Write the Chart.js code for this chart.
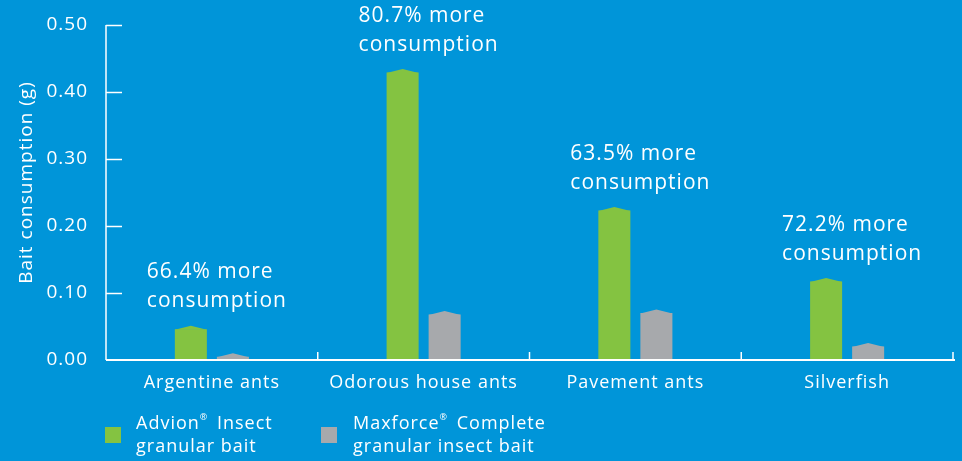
<!DOCTYPE html>
<html>
<head>
<meta charset="utf-8">
<script src="https://cdn.jsdelivr.net/npm/chart.js@4"></script>
<style>
  html, body { margin: 0; padding: 0; background: #0095d9; }
  #wrap { width: 962px; height: 461px; position: relative; }
</style>
</head>
<body>
<div id="wrap"><canvas id="c" width="962" height="461"></canvas></div>
<script>
const categories = ['Argentine ants', 'Odorous house ants', 'Pavement ants', 'Silverfish'];
const advion = [0.046, 0.429, 0.223, 0.117];
const maxforce = [0.005, 0.068, 0.070, 0.020];
const notes = [
  ['66.4% more', 'consumption'],
  ['80.7% more', 'consumption'],
  ['63.5% more', 'consumption'],
  ['72.2% more', 'consumption']
];
const seriesNames = [
  ['Advion® Insect', 'granular bait'],
  ['Maxforce® Complete', 'granular insect bait']
];
const yTickValues = [0, 0.1, 0.2, 0.3, 0.4, 0.5];
const yTitle = 'Bait consumption (g)';

const BG = '#0095d9';
const GREEN = '#84c341';
const GREY = '#a7a9ac';
const WHITE = '#ffffff';
const FONT = "'Open Sans', sans-serif";

function drawTextWithReg(ctx, text, x, y, size) {
  const parts = text.split('®');
  let cx = x;
  parts.forEach((p, i) => {
    ctx.font = `${size}px ${FONT}`;
    ctx.fillText(p, cx, y);
    cx += ctx.measureText(p).width;
    if (i < parts.length - 1) {
      ctx.font = `${Math.round(size * 0.5)}px ${FONT}`;
      ctx.fillText('®', cx, y - size * 0.38);
      cx += ctx.measureText('®').width + 3;
    }
  });
}

const decor = {
  id: 'decor',
  beforeDraw(chart) {
    const ctx = chart.ctx;
    ctx.save();
    ctx.fillStyle = BG;
    ctx.fillRect(0, 0, chart.width, chart.height);
    ctx.restore();
    ctx.letterSpacing = '1px';
  },
  afterDatasetsDraw(chart) {
    const ctx = chart.ctx;
    const x = chart.scales.x, y = chart.scales.y;
    const area = chart.chartArea;
    ctx.save();
    // roofs on bars
    chart.data.datasets.forEach((ds, di) => {
      const meta = chart.getDatasetMeta(di);
      meta.data.forEach(bar => {
        const l = bar.x - bar.width / 2, r = bar.x + bar.width / 2;
        ctx.fillStyle = ds.backgroundColor;
        ctx.beginPath();
        ctx.moveTo(l, bar.y + 0.5);
        ctx.lineTo(bar.x, bar.y - 3.5);
        ctx.lineTo(r, bar.y + 0.5);
        ctx.closePath();
        ctx.fill();
      });
    });
    // axes
    ctx.strokeStyle = WHITE;
    ctx.lineWidth = 1.5;
    const y0 = y.getPixelForValue(0);
    const yTop = y.getPixelForValue(0.5);
    ctx.beginPath();
    ctx.moveTo(area.left, yTop);
    ctx.lineTo(area.left, y0);
    ctx.stroke();
    yTickValues.forEach(v => {
      if (v === 0) return;
      const py = Math.round(y.getPixelForValue(v)) + 0.5;
      ctx.beginPath();
      ctx.moveTo(area.left, py);
      ctx.lineTo(area.left + 16, py);
      ctx.stroke();
    });
    ctx.lineWidth = 2;
    ctx.beginPath();
    ctx.moveTo(area.left, y0);
    ctx.lineTo(area.right + 2, y0);
    ctx.stroke();
    ctx.lineWidth = 1.5;
    for (let i = 1; i <= categories.length; i++) {
      let px;
      if (i < categories.length) px = (x.getPixelForValue(i - 1) + x.getPixelForValue(i)) / 2;
      else px = area.right;
      ctx.beginPath();
      ctx.moveTo(px, y0);
      ctx.lineTo(px, y0 - 8);
      ctx.stroke();
    }
    // y title
    ctx.fillStyle = WHITE;
    ctx.font = `19px ${FONT}`;
    ctx.textAlign = 'center';
    ctx.textBaseline = 'middle';
    ctx.save();
    ctx.translate(27, (area.top + area.bottom) / 2 - 10);
    ctx.rotate(-Math.PI / 2);
    ctx.fillText(yTitle, 0, 0);
    ctx.restore();
    // annotations
    const gmeta = chart.getDatasetMeta(0);
    ctx.fillStyle = WHITE;
    ctx.font = `21px ${FONT}`;
    ctx.textBaseline = 'middle';
    ctx.textAlign = 'left';
    gmeta.data.forEach((bar, i) => {
      const left = bar.x - bar.width / 2 - 28;
      const l2 = bar.y - 4 - 24;
      ctx.fillText(notes[i][0], left, l2 - 29);
      ctx.fillText(notes[i][1], left, l2);
    });
    // legend
    const items = [{ sx: 105, tx: 136 }, { sx: 321, tx: 353 }];
    chart.data.datasets.forEach((ds, di) => {
      const it = items[di];
      ctx.fillStyle = ds.backgroundColor;
      ctx.fillRect(it.sx, 427, 16, 16);
      ctx.fillStyle = WHITE;
      ctx.textBaseline = 'middle';
      drawTextWithReg(ctx, seriesNames[di][0], it.tx, 424, 18);
      drawTextWithReg(ctx, seriesNames[di][1], it.tx, 447, 18);
    });
    ctx.restore();
  }
};

new Chart(document.getElementById('c'), {
  type: 'bar',
  data: {
    labels: categories,
    datasets: [
      { label: 'Advion Insect granular bait', data: advion, backgroundColor: GREEN,
        categoryPercentage: 0.397, barPercentage: 0.762 },
      { label: 'Maxforce Complete granular insect bait', data: maxforce, backgroundColor: GREY,
        categoryPercentage: 0.397, barPercentage: 0.762 }
    ]
  },
  options: {
    responsive: false,
    animation: false,
    events: [],
    layout: { padding: { left: 0, top: 25, right: 9, bottom: 0 } },
    plugins: { legend: { display: false }, tooltip: { enabled: false } },
    scales: {
      x: {
        grid: { display: false, drawTicks: false },
        border: { display: false },
        ticks: { color: WHITE, font: { family: FONT, size: 18 }, padding: 12, maxRotation: 0 },
        afterFit(s) { s.height = 101; s.paddingLeft = 0; s.paddingRight = 0; }
      },
      y: {
        min: 0, max: 0.5,
        grid: { display: false, drawTicks: false },
        border: { display: false },
        afterBuildTicks(s) { s.ticks = yTickValues.map(v => ({ value: v })); },
        ticks: { color: WHITE, font: { family: FONT, size: 19 }, padding: 18,
                 callback: v => Number(v).toFixed(2) },
        afterFit(s) { s.width = 106; s.paddingTop = 0; s.paddingBottom = 0; }
      }
    }
  },
  plugins: [decor]
});
</script>
</body>
</html>
